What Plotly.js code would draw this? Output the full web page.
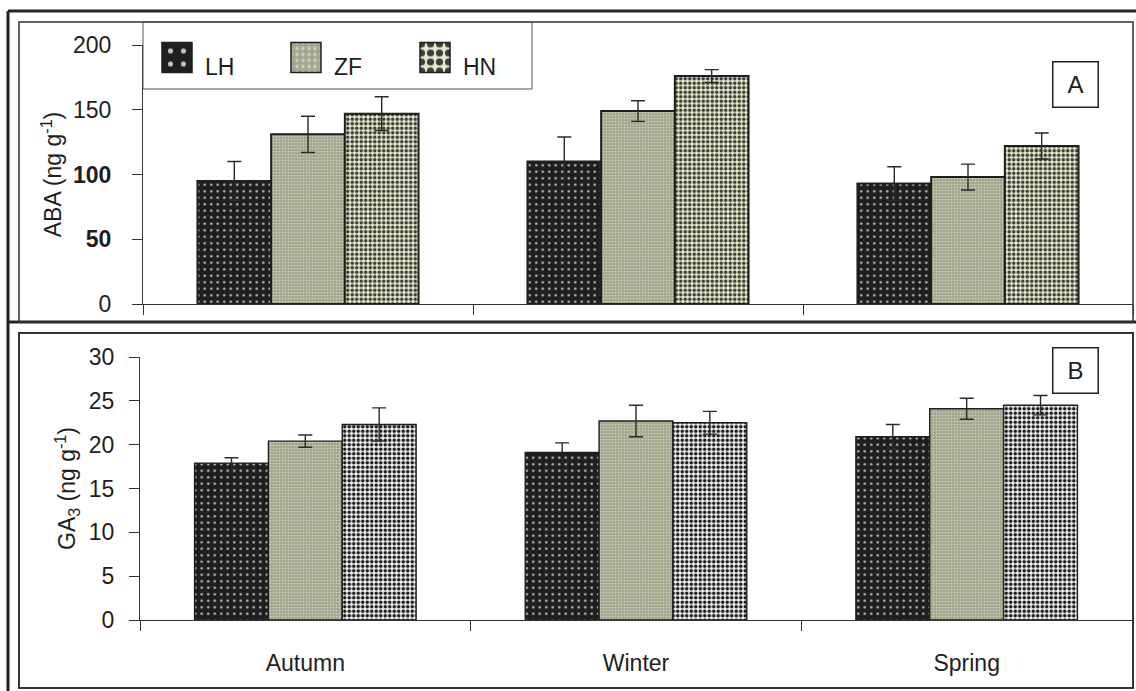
<!DOCTYPE html>
<html>
<head>
<meta charset="utf-8">
<script src="https://cdn.plot.ly/plotly-3.0.1.min.js"></script>
<style>
  html, body { margin: 0; padding: 0; background: #ffffff; }
  #chart { width: 1136px; height: 691px; }
</style>
</head>
<body>
<div id="chart"></div>
<script>
// ---- data ----
const seasons = ['Autumn', 'Winter', 'Spring'];
const cultivars = ['LH', 'ZF', 'HN'];

// Panel A: ABA (ng g-1)
const abaLH = [95, 110, 93];
const abaLHErr = [15, 19, 13];
const abaZF = [131, 149, 98];
const abaZFErr = [14, 8, 10];
const abaHN = [147, 176, 122];
const abaHNErr = [13, 5, 10];

// Panel B: GA3 (ng g-1)
const gaLH = [17.9, 19.1, 20.9];
const gaLHErr = [0.6, 1.1, 1.4];
const gaZF = [20.4, 22.7, 24.1];
const gaZFErr = [0.7, 1.8, 1.2];
const gaHN = [22.3, 22.5, 24.5];
const gaHNErr = [1.9, 1.3, 1.1];

const abaTickVals = [0, 50, 100, 150, 200];
const abaTickText = ['0', '<b>50</b>', '<b>100</b>', '150', '200'];
const gaTickVals = [0, 5, 10, 15, 20, 25, 30];

// ---- styling ----
const W = 1136, H = 691;
const px = x => x / W;
const py = y => 1 - y / H;
const FONT = 'Liberation Sans, Arial, sans-serif';
const INK = '#1e1e1e';

const patterns = {
  LH: {shape: '.', bgcolor: '#1f1f1f', fgcolor: '#c4c4c4', size: 6.5, solidity: 0.12},
  ZF: {shape: '.', bgcolor: '#a3a78e', fgcolor: '#cfd3bf', size: 3, solidity: 0.25},
  HNa: {shape: '.', bgcolor: '#e6e9d1', fgcolor: '#3a4032', size: 4.5, solidity: 0.5},
  HNb: {shape: '.', bgcolor: '#f4f4f4', fgcolor: '#1e1e1e', size: 4.5, solidity: 0.5}
};

function barTrace(name, y, err, pat, xa, ya, lineW, showLegend) {
  return {
    type: 'bar', name: name, x: seasons, y: y,
    xaxis: xa, yaxis: ya, showlegend: showLegend,
    marker: {color: pat.bgcolor, pattern: pat, line: {color: INK, width: lineW}},
    error_y: {type: 'data', array: err, visible: true, color: '#2a2a2a', thickness: 1.4, width: 7},
    hoverinfo: 'skip'
  };
}

const data = [
  barTrace(cultivars[0], abaLH, abaLHErr, patterns.LH, 'x', 'y', 2, true),
  barTrace(cultivars[1], abaZF, abaZFErr, patterns.ZF, 'x', 'y', 2, true),
  barTrace(cultivars[2], abaHN, abaHNErr, patterns.HNa, 'x', 'y', 2, true),
  barTrace(cultivars[0], gaLH, gaLHErr, patterns.LH, 'x2', 'y2', 1.4, false),
  barTrace(cultivars[1], gaZF, gaZFErr, patterns.ZF, 'x2', 'y2', 1.4, false),
  barTrace(cultivars[2], gaHN, gaHNErr, patterns.HNb, 'x2', 'y2', 1.4, false)
];

const axisCommon = {
  showline: true, linecolor: '#333333', linewidth: 1,
  ticks: 'outside', ticklen: 10, tickcolor: '#333333', tickwidth: 1,
  showgrid: false, zeroline: false, fixedrange: true,
  tickfont: {family: FONT, size: 23, color: INK}
};

const layout = {
  width: W, height: H,
  margin: {l: 0, r: 0, t: 0, b: 0},
  paper_bgcolor: '#ffffff', plot_bgcolor: 'rgba(0,0,0,0)',
  font: {family: FONT, color: INK},
  barmode: 'group', bargap: 0.33, bargroupgap: 0,
  xaxis: Object.assign({}, axisCommon, {
    domain: [px(143), px(1133)], anchor: 'y',
    tickson: 'boundaries', showticklabels: false, type: 'category'
  }),
  yaxis: Object.assign({}, axisCommon, {
    domain: [py(304), py(45)], anchor: 'x', range: [0, 200],
    tickvals: abaTickVals, ticktext: abaTickText, ticklabelstandoff: 16,
    title: {text: 'ABA (ng g<sup>-1</sup>)', font: {family: FONT, size: 23, color: INK}, standoff: 4}
  }),
  xaxis2: Object.assign({}, axisCommon, {
    domain: [px(140), px(1132)], anchor: 'y2',
    tickson: 'boundaries', type: 'category', ticklabelstandoff: 22,
    tickfont: {family: FONT, size: 23, color: INK}
  }),
  yaxis2: Object.assign({}, axisCommon, {
    domain: [py(620), py(357)], anchor: 'x2', range: [0, 30],
    tickvals: gaTickVals, ticklabelstandoff: 10,
    title: {text: 'GA<sub>3</sub> (ng g<sup>-1</sup>)', font: {family: FONT, size: 23, color: INK}, standoff: 6}
  }),
  legend: {
    orientation: 'h', x: px(157), y: py(36), xanchor: 'left', yanchor: 'top',
    bgcolor: 'rgba(0,0,0,0)', borderwidth: 0,
    font: {family: FONT, size: 23, color: INK},
    entrywidth: 84, entrywidthmode: 'pixels', traceorder: 'normal'
  },
  shapes: [
    // outer heavy frame
    {type: 'line', xref: 'paper', yref: 'paper', x0: px(8), x1: px(1140), y0: py(11), y1: py(11), line: {color: '#222', width: 3}},
    {type: 'line', xref: 'paper', yref: 'paper', x0: px(8), x1: px(8), y0: py(11), y1: py(695), line: {color: '#222', width: 3}},
    {type: 'line', xref: 'paper', yref: 'paper', x0: px(8), x1: px(1140), y0: py(322), y1: py(322), line: {color: '#222', width: 3}},
    // panel borders
    {type: 'rect', xref: 'paper', yref: 'paper', x0: px(19), x1: px(1133), y0: py(322), y1: py(22), line: {color: '#333', width: 1.5}},
    {type: 'rect', xref: 'paper', yref: 'paper', x0: px(19), x1: px(1133), y0: py(688), y1: py(333), line: {color: '#333', width: 2}},
    // legend box
    {type: 'rect', xref: 'paper', yref: 'paper', x0: px(143), x1: px(532), y0: py(89), y1: py(22), line: {color: '#555', width: 1}}
  ],
  annotations: [
    {text: 'A', xref: 'paper', yref: 'paper', x: px(1098.5), y: py(61), showarrow: false,
     font: {family: FONT, size: 24, color: INK}, bordercolor: '#222', borderwidth: 1.5, width: 42, height: 42, bgcolor: '#fff'},
    {text: 'B', xref: 'paper', yref: 'paper', x: px(1099), y: py(370), showarrow: false,
     font: {family: FONT, size: 24, color: INK}, bordercolor: '#222', borderwidth: 1.5, width: 42, height: 42, bgcolor: '#fff'}
  ]
};

Plotly.newPlot('chart', data, layout, {displayModeBar: false, staticPlot: true}).then(gd => {
  // enlarge legend swatches to match the big squares of the original legend,
  // and set the label a little lower and to the right as in the original
  gd.querySelectorAll('.legend .legendpoints path').forEach(p => {
    const t = p.getAttribute('transform') || '';
    p.setAttribute('transform', t + ' scale(2.5)');
    p.style.strokeWidth = '0.6px';
  });
  gd.querySelectorAll('.legend text.legendtext').forEach(t => {
    const x = parseFloat(t.getAttribute('x') || '0');
    const y = parseFloat(t.getAttribute('y') || '0');
    t.setAttribute('x', x + 8);
    t.setAttribute('y', y + 9);
  });
});
</script>
</body>
</html>
